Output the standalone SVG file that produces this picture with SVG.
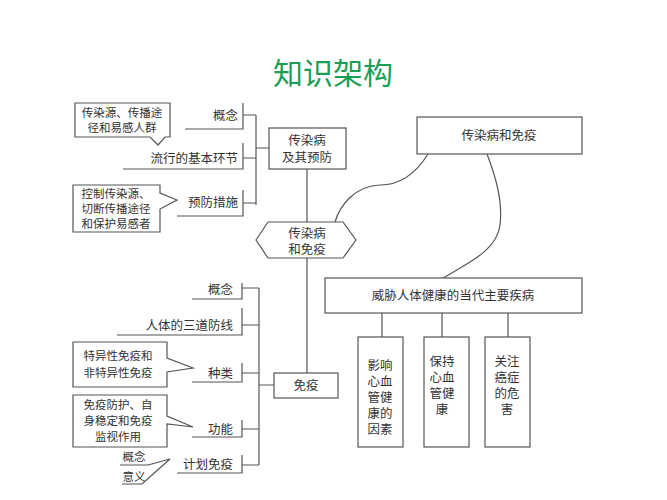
<svg xmlns="http://www.w3.org/2000/svg" width="667" height="500" viewBox="0 0 667 500">
<style>
text{font-family:"Noto Sans CJK SC",sans-serif;font-size:12.5px;fill:#333}
.c{text-anchor:middle}.r{text-anchor:end}
.s{font-size:11.5px}
.ln,.bx{fill:none;stroke:#555;stroke-width:1.2}
.bx{fill:#fff}
</style>
<rect width="667" height="500" fill="#fff"/>
<text x="333" y="84" class="c" style="font-size:30px;fill:#1a9e55">知识架构</text>
<g id="connectors">
<path class="ln" d="M185 129H243V103M243 115H256M123 169H243V143M243 158H256M177 216H243V190M243 203H256M256 115V205M256 148H269"/>
<path class="ln" d="M307 169V222M307 258V373"/>
<path class="ln" d="M192 299H242V283M242 288H259M117 335H242V308M242 325H259M192 382H242V363M242 373H259M192 437H242V420M242 429H259M177 473H242V455M242 465H259M259 288V465M259 385H274"/>
<path class="ln" d="M428 154C415 175 400 185 380 185C355 186 340 205 335 222"/>
<path class="ln" d="M487 154C495 175 503 200 500 225C497 250 470 262 443 278"/>
<path class="ln" d="M382 313V337M442 313V337M508 313V337"/>
<path class="ln" d="M120 465H148L170 459M122 484H142L170 459"/>
</g>
<g id="callout1"><path class="bx" d="M75 103H170V137H165L158 145L150 137H75Z"/><text x="122" y="117" class="c s">传染源、传播途</text><text x="122" y="132" class="c s">径和易感人群</text></g>
<g id="callout2"><path class="bx" d="M73 185H160V193L177 200L160 209V232H73Z"/><text x="116" y="198" class="c s">控制传染源、</text><text x="116" y="213" class="c s">切断传播途径</text><text x="116" y="228" class="c s">和保护易感者</text></g>
<g id="n-gn"><text x="238" y="120" class="r">概念</text></g>
<g id="n-lx"><text x="238" y="163" class="r">流行的基本环节</text></g>
<g id="n-yf"><text x="238" y="207" class="r">预防措施</text></g>
<g id="n-crb"><rect class="bx" x="269" y="128" width="77" height="41"/><text x="307" y="145" class="c">传染病</text><text x="307" y="162" class="c">及其预防</text></g>
<g id="n-hex"><path class="bx" d="M256 240L268 222H343L356 240L343 258H268Z"/><text x="307" y="238" class="c">传染病</text><text x="307" y="254" class="c">和免疫</text></g>
<g id="n-my"><rect class="bx" x="274" y="373" width="64" height="25"/><text x="306" y="390" class="c">免疫</text></g>
<g id="n-gn2"><text x="233" y="294" class="r">概念</text></g>
<g id="n-fx"><text x="233" y="330" class="r">人体的三道防线</text></g>
<g id="n-zl"><text x="233" y="378" class="r">种类</text></g>
<g id="n-gnn"><text x="233" y="434" class="r">功能</text></g>
<g id="n-jh"><text x="233" y="469" class="r">计划免疫</text></g>
<g id="callout3"><path class="bx" d="M73 342H167V358L193 368L167 372V387H73Z"/><text x="118" y="360" class="c s">特异性免疫和</text><text x="118" y="377" class="c s">非特异性免疫</text></g>
<g id="callout4"><path class="bx" d="M73 395H167V416L193 427L167 424V447H73Z"/><text x="118" y="409" class="c s">免疫防护、自</text><text x="118" y="425" class="c s">身稳定和免疫</text><text x="118" y="441" class="c s">监视作用</text></g>
<g id="n-yy"><text x="134" y="461" class="c s">概念</text><text x="134" y="481" class="c s">意义</text></g>
<g id="n-top"><rect class="bx" x="417" y="117" width="165" height="37"/><text x="499" y="140" class="c">传染病和免疫</text></g>
<g id="n-big"><rect class="bx" x="325" y="278" width="257" height="35"/><text x="453" y="300" class="c">威胁人体健康的当代主要疾病</text></g>
<g id="n-b1"><rect class="bx" x="358" y="337" width="45" height="110"/><text x="380" y="370" class="c">影响</text><text x="380" y="386" class="c">心血</text><text x="380" y="402" class="c">管健</text><text x="380" y="418" class="c">康的</text><text x="380" y="434" class="c">因素</text></g>
<g id="n-b2"><rect class="bx" x="424" y="337" width="45" height="110"/><text x="442" y="366" class="c">保持</text><text x="442" y="382" class="c">心血</text><text x="442" y="398" class="c">管健</text><text x="442" y="414" class="c">康</text></g>
<g id="n-b3"><rect class="bx" x="485" y="337" width="45" height="110"/><text x="507" y="366" class="c">关注</text><text x="507" y="382" class="c">癌症</text><text x="507" y="398" class="c">的危</text><text x="507" y="414" class="c">害</text></g>
</svg>
